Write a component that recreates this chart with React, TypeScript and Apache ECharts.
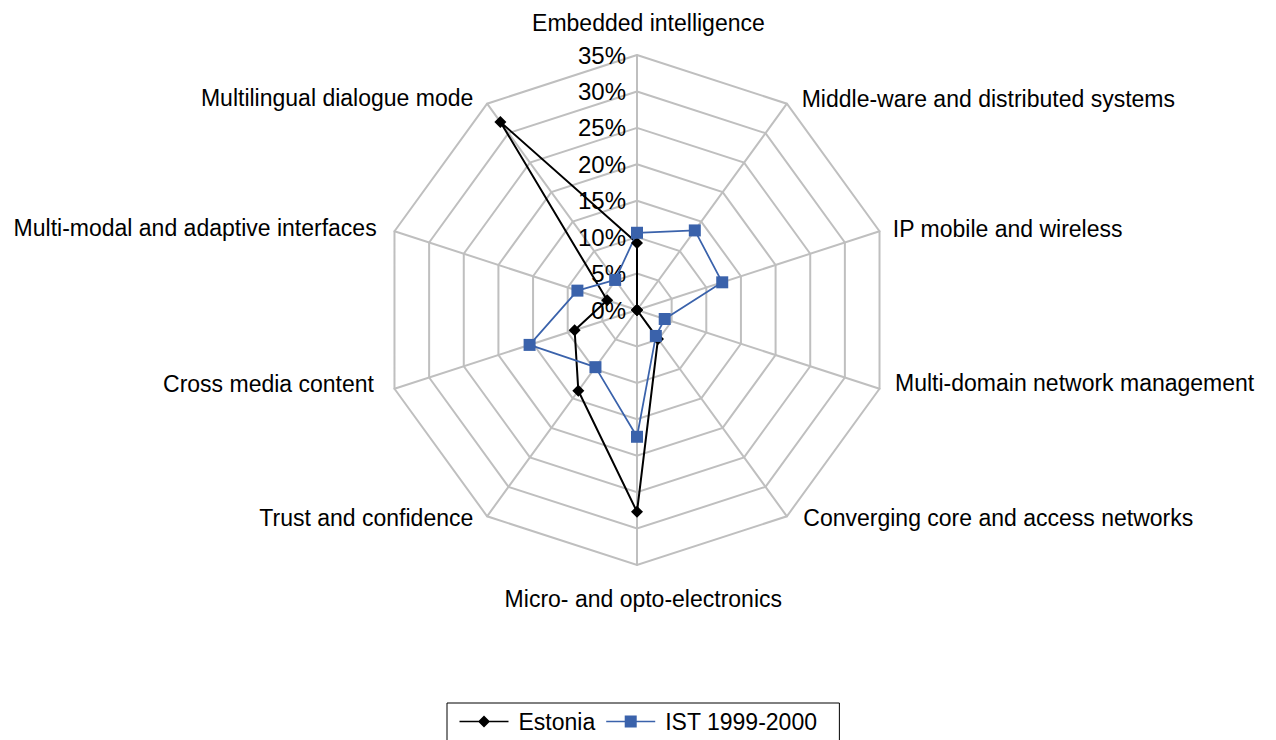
import React, { useEffect, useRef } from "react";
import * as echarts from "echarts";

// Categories in clockwise order starting at the top
const categories = [
  "Embedded intelligence",
  "Middle-ware and distributed systems",
  "IP mobile and wireless",
  "Multi-domain network management",
  "Converging core and access networks",
  "Micro- and opto-electronics",
  "Trust and confidence",
  "Cross media content",
  "Multi-modal and adaptive interfaces",
  "Multilingual dialogue mode",
];

const estonia = [9.2, 0, 0, 0, 4.9, 27.7, 13.7, 9.0, 4.3, 31.9];
const ist = [10.6, 13.5, 12.3, 4.0, 4.4, 17.4, 9.7, 15.5, 8.6, 5.1];

const axisMax = 35;
const axisSplits = 7;

const FONT = "'Liberation Sans', Arial, sans-serif";

// Fine label nudges (style only), [dx, dy] in px, clockwise order
const nameNudge: [number, number][] = [
  [11.4, -6.2],
  [6.6, 6.3],
  [0, 2],
  [2.2, -10.1],
  [8.2, -9.6],
  [6.3, 8.6],
  [-5.6, -10.1],
  [-7.2, -9.1],
  [-4.5, 1.4],
  [-5.6, 5.9],
];

// ECharts radar goes counter-clockwise; reorder so the chart reads clockwise
const order = [0, ...categories.slice(1).map((_, i) => categories.length - 1 - i)];
const reorder = (arr: any[]) => order.map((i) => arr[i]);

function paddingFor(i: number): number[] {
  const [dx, dy] = nameNudge[i];
  const pos = (v: number) => Math.max(0, v);
  if (i === 0) {
    return [0, pos(-2 * dx), pos(-dy), pos(2 * dx)];
  }
  if (i === 5) {
    return [pos(dy), pos(-2 * dx), 0, pos(2 * dx)];
  }
  const vt = pos(2 * dy);
  const vb = pos(-2 * dy);
  if (i < 5) return [vt, 0, vb, pos(dx)];
  return [vt, pos(-dx), vb, 0];
}

const rich: Record<string, any> = {};
categories.forEach((_, i) => {
  rich["n" + i] = {
    fontSize: 23,
    fontFamily: FONT,
    color: "#000000",
    padding: paddingFor(i),
  };
});

const lineIcon = "path://M0 5.25H49V6.75H0Z";
const estoniaIcon = lineIcon + "M24.5 0L30.5 6L24.5 12L18.5 6Z";
const istIcon = lineIcon + "M18.5 0H30.5V12H18.5Z";

export default function App() {
  const ref = useRef<HTMLDivElement>(null);

  useEffect(() => {
    if (!ref.current) return;
    const chart = echarts.init(ref.current, undefined, { renderer: "svg" });
    const indicator = reorder(categories).map((name: string, i: number) => {
      const ind: any = { name, max: axisMax, min: 0 };
      if (i === 0) ind.axisLabel = { show: true };
      return ind;
    });
    chart.setOption({
      animation: false,
      backgroundColor: "#ffffff",
      textStyle: { fontFamily: FONT },
      legend: {
        top: 703,
        left: 447,
        data: [
          { name: "Estonia", icon: estoniaIcon },
          { name: "IST 1999-2000", icon: istIcon },
        ],
        itemWidth: 49,
        itemHeight: 12,
        itemGap: 11,
        padding: [7, 22, 20, 12.5],
        borderColor: "#000000",
        borderWidth: 1,
        borderRadius: 0,
        textStyle: {
          fontSize: 23,
          color: "#000000",
          fontFamily: FONT,
          padding: [0, 0, 0, 5],
        },
      },
      radar: {
        center: [637, 310],
        radius: 255,
        shape: "polygon",
        startAngle: 90,
        splitNumber: axisSplits,
        nameGap: 14,
        axisName: {
          color: "#000000",
          fontSize: 23,
          fontFamily: FONT,
          formatter: (name: string) => `{n${categories.indexOf(name)}|${name}}`,
          rich,
        },
        axisLine: { lineStyle: { color: "#bfbfbf", width: 2 } },
        splitLine: { lineStyle: { color: "#bfbfbf", width: 2 } },
        splitArea: { show: false },
        axisTick: { show: false },
        axisLabel: {
          show: false,
          color: "#000000",
          fontSize: 24,
          fontFamily: FONT,
          margin: 11,
          formatter: (v: number) => `${v}%`,
        },
        indicator,
      },
      series: [
        {
          type: "radar",
          symbolSize: 8,
          data: [
            {
              name: "Estonia",
              value: reorder(estonia),
              symbol: "diamond",
              symbolSize: 12,
              lineStyle: { color: "#000000", width: 2 },
              itemStyle: { color: "#000000" },
            },
            {
              name: "IST 1999-2000",
              value: reorder(ist),
              symbol: "rect",
              symbolSize: 12,
              lineStyle: { color: "#3a62ab", width: 1.75 },
              itemStyle: { color: "#3a62ab" },
            },
          ],
        },
      ],
    });
    return () => chart.dispose();
  }, []);

  return (
    <div
      ref={ref}
      style={{ position: "fixed", left: 0, top: 0, width: 1276, height: 740 }}
    />
  );
}
